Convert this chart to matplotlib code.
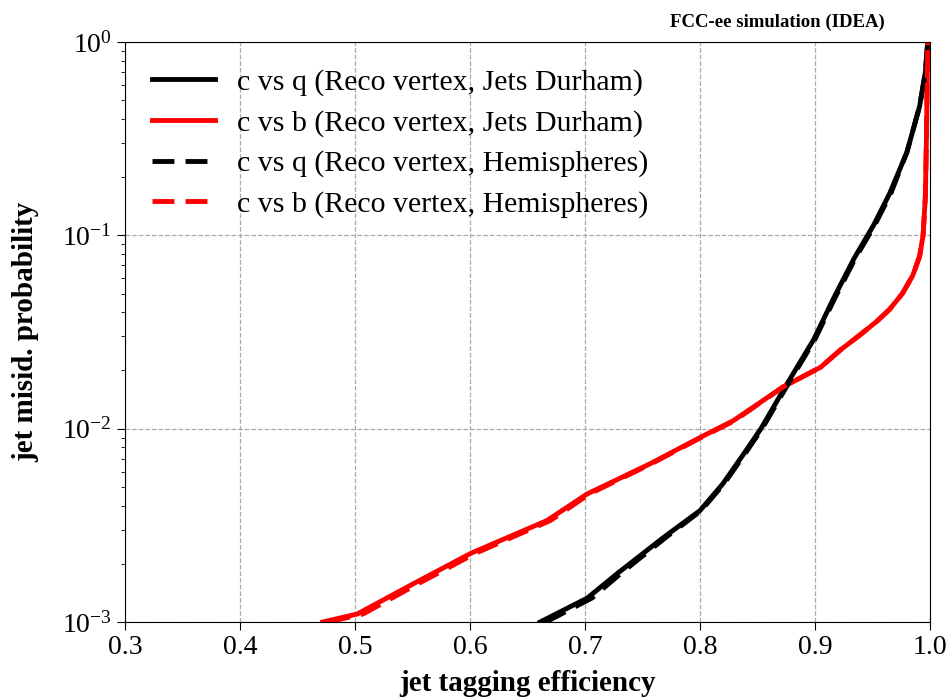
import matplotlib
matplotlib.use("Agg")
import matplotlib.pyplot as plt

plt.rcParams['font.family'] = ['Liberation Serif', 'DejaVu Serif']
plt.rcParams['mathtext.fontset'] = 'stix'

#=== DONNEES ===
# c vs q, Jets Durham
eff_cq_durham = [0.661, 0.702, 0.728, 0.768, 0.800, 0.820, 0.838, 0.853, 0.874, 0.899,
                 0.916, 0.934, 0.951, 0.965, 0.980, 0.991, 0.996, 0.998]
mis_cq_durham = [1.0e-3, 1.33e-3, 1.78e-3, 2.73e-3, 3.77e-3, 5.2e-3, 7.4e-3, 1.0e-2, 1.64e-2, 2.9e-2,
                 4.7e-2, 0.076, 0.113, 0.165, 0.27, 0.466, 0.70, 1.0]

# c vs b, Jets Durham
eff_cb_durham = [0.472, 0.502, 0.551, 0.601, 0.667, 0.702, 0.757, 0.800, 0.829, 0.872, 0.905,
                 0.922, 0.939, 0.954, 0.965, 0.976, 0.985, 0.991, 0.994, 0.996, 0.997, 0.998]
mis_cb_durham = [1.0e-3, 1.1e-3, 1.58e-3, 2.27e-3, 3.35e-3, 4.6e-3, 6.6e-3, 9.0e-3, 1.1e-2, 1.64e-2, 2.08e-2,
                 2.55e-2, 3.05e-2, 3.6e-2, 4.15e-2, 5.0e-2, 6.2e-2, 7.8e-2, 0.1, 0.16, 0.35, 1.0]

# c vs q, Hemispheres
eff_cq_hemi = [0.666, 0.706, 0.731, 0.770, 0.801, 0.821, 0.839, 0.854, 0.875, 0.900,
               0.917, 0.935, 0.952, 0.966, 0.980, 0.991, 0.996, 0.998]
mis_cq_hemi = [1.0e-3, 1.33e-3, 1.78e-3, 2.73e-3, 3.77e-3, 5.2e-3, 7.4e-3, 1.0e-2, 1.64e-2, 2.9e-2,
               4.7e-2, 0.076, 0.113, 0.165, 0.27, 0.466, 0.70, 1.0]

# c vs b, Hemispheres
eff_cb_hemi = [0.477, 0.507, 0.555, 0.605, 0.670, 0.704, 0.758, 0.801, 0.830, 0.872, 0.905,
               0.922, 0.939, 0.954, 0.965, 0.976, 0.985, 0.991, 0.994, 0.996, 0.997, 0.998]
mis_cb_hemi = [1.0e-3, 1.1e-3, 1.58e-3, 2.27e-3, 3.35e-3, 4.6e-3, 6.6e-3, 9.0e-3, 1.1e-2, 1.64e-2, 2.08e-2,
               2.55e-2, 3.05e-2, 3.6e-2, 4.15e-2, 5.0e-2, 6.2e-2, 7.8e-2, 0.1, 0.16, 0.35, 1.0]

labels = ["c vs q (Reco vertex, Jets Durham)",
          "c vs b (Reco vertex, Jets Durham)",
          "c vs q (Reco vertex, Hemispheres)",
          "c vs b (Reco vertex, Hemispheres)"]

#=== TRACE ===
fig = plt.figure(figsize=(9.48, 6.98), dpi=100)
ax = fig.add_axes([125/948, 1 - 622/698, 805/948, 580/698])

ax.plot(eff_cq_durham, mis_cq_durham, '-', color='black', lw=3.5, label=labels[0])
ax.plot(eff_cb_durham, mis_cb_durham, '-', color='red', lw=3.5, label=labels[1])
ax.plot(eff_cq_hemi, mis_cq_hemi, '--', color='black', lw=3.5, dashes=(4.5, 2.3), label=labels[2])
ax.plot(eff_cb_hemi, mis_cb_hemi, '--', color='red', lw=3.5, dashes=(4.5, 2.3), label=labels[3])

ax.set_yscale('log')
ax.set_xlim(0.3, 1.0)
ax.set_ylim(1e-3, 1)
ax.grid(True, which='major', linestyle='--', color='#aaaaaa', linewidth=0.9)
ax.tick_params(axis='both', which='major', labelsize=20, length=6)
ax.tick_params(axis='y', which='minor', length=3)

ax.set_xlabel("jet tagging efficiency", fontsize=21, fontweight='bold')
ax.set_ylabel("jet misid. probability", fontsize=21, fontweight='bold')
ax.xaxis.set_label_coords(0.5, -0.083)
ax.yaxis.set_label_coords(-0.106, 0.5)
ax.text(0.81, 1.019, "FCC-ee simulation (IDEA)", transform=ax.transAxes,
        ha='center', va='bottom', fontsize=13.5, fontweight='bold')

ax.legend(loc='upper left', frameon=False, fontsize=21.5, handlelength=2.1,
          handletextpad=0.75, labelspacing=0.45)

fig.savefig("out.png", dpi=100)
